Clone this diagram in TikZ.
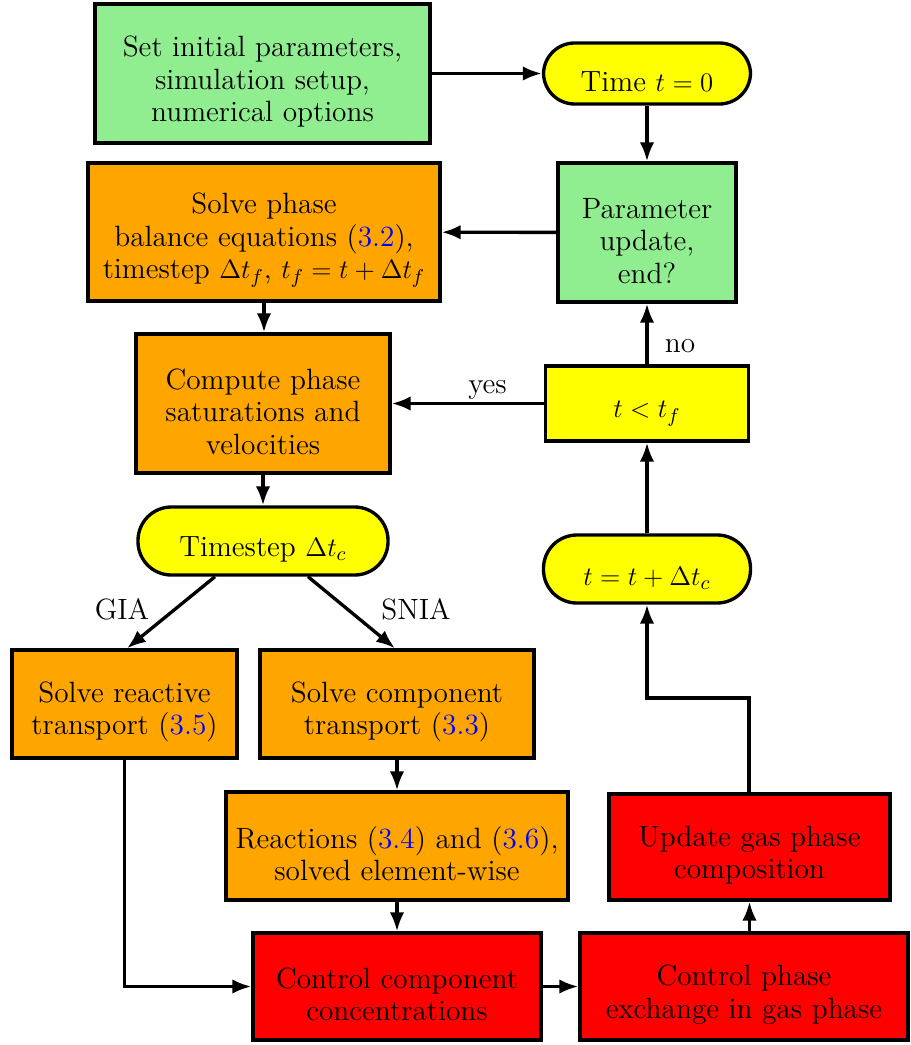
\documentclass[tikz,border=0pt]{standalone}
\usetikzlibrary{arrows.meta}
\definecolor{lgreen}{RGB}{144,238,144}
\definecolor{orng}{RGB}{255,165,0}
\definecolor{yel}{RGB}{255,255,0}
\definecolor{rd}{RGB}{255,0,0}
\newcommand{\rf}[1]{(\textcolor{blue}{#1})}
\newcommand{\st}{\rule{0pt}{16.6pt}}
\tikzset{
  box/.style={draw, line width=1.5pt, align=center, inner sep=2pt, font=\fontsize{13.2}{14.5}\selectfont},
  gbox/.style={box, fill=lgreen},
  obox/.style={box, fill=orng},
  ybox/.style={box, fill=yel},
  rbox/.style={box, fill=rd},
  pill/.style={box, fill=yel, rounded corners=14pt},
  arr/.style={line width=1.5pt, -{Latex[length=8.5pt,width=6.5pt]}},
  lbl/.style={font=\fontsize{13.2}{14.5}\selectfont},
}
\begin{document}
\begin{tikzpicture}[x=0.45pt,y=-0.45pt]
\useasboundingbox (0,0) rectangle (910,1045);
\node[gbox, minimum width=150.75pt, minimum height=62.55pt] (init) at (262.5,73.5) {\st Set initial parameters,\\simulation setup,\\numerical options};
\node[pill, minimum width=93.15pt, minimum height=27.45pt] (t0) at (647,73.5) {\st Time $t=0$};
\node[gbox, minimum width=80.1pt, minimum height=62.55pt] (param) at (647,232.5) {\st Parameter\\update,\\end?};
\node[obox, minimum width=158.4pt, minimum height=62.1pt] (solve) at (264,232) {\st Solve phase\\balance equations \rf{3.2},\\timestep $\Delta t_f$, $t_f = t+\Delta t_f$};
\node[obox, minimum width=114.3pt, minimum height=62.55pt] (comp) at (263,403.5) {\st Compute phase\\saturations and\\velocities};
\node[ybox, minimum width=91.35pt, minimum height=33.75pt] (tlt) at (647,403.5) {\st $t<t_f$};
\node[pill, minimum width=112.5pt, minimum height=30.6pt, rounded corners=15pt] (ts) at (263,541) {\st Timestep $\Delta t_c$};
\node[pill, minimum width=93.15pt, minimum height=30.6pt, rounded corners=15pt] (tup) at (647,569) {\st $t=t+\Delta t_c$};
\node[obox, minimum width=101.25pt, minimum height=48.6pt] (react) at (124.5,704) {\st Solve reactive\\transport \rf{3.5}};
\node[obox, minimum width=123.3pt, minimum height=48.6pt] (ctr) at (397,704) {\st Solve component\\transport \rf{3.3}};
\node[obox, minimum width=153.9pt, minimum height=48.6pt] (reac) at (397,846) {\st Reactions \rf{3.4} and \rf{3.6},\\solved element-wise};
\node[rbox, minimum width=126.45pt, minimum height=47.7pt] (gas) at (749.5,847) {\st Update gas phase\\composition};
\node[rbox, minimum width=129.6pt, minimum height=48.15pt] (cc) at (397,986.5) {\st Control component\\concentrations};
\node[rbox, minimum width=147.6pt, minimum height=48.15pt] (cp) at (744,986.5) {\st Control phase\\exchange in gas phase};
\coordinate (g1) at (749,698);
\coordinate (g2) at (647,698);

\draw[arr] (init) -- (t0);
\draw[arr] (t0) -- (param);
\draw[arr] (param) -- (solve);
\draw[arr] (solve.south -| 264,0) -- (comp.north -| 264,0);
\draw[arr] (tlt) -- node[lbl, above, pos=0.37, inner sep=1pt] {yes} (comp);
\draw[arr] (tlt) -- node[lbl, right, pos=0.3, xshift=4pt] {no} (param);
\draw[arr] (comp) -- (ts);
\draw[arr] (ts.south -| 215,0) -- node[lbl, left, pos=0.45, xshift=-7.7pt] {GIA} (react.north -| 127,0);
\draw[arr] (ts.south -| 308,0) -- node[lbl, right, pos=0.45, xshift=11.3pt] {SNIA} (ctr.north -| 395,0);
\draw[arr] (ctr) -- (reac);
\draw[arr] (reac) -- (cc);
\draw[arr] (react.south) |- (cc.west);
\draw[arr] (cc) -- (cp);
\draw[arr] (cp.north -| gas.south) -- (gas.south);
\draw[arr] (gas.north -| g1) -- (g1) -- (g2) -- (tup.south);
\draw[arr] (tup) -- (tlt);
\end{tikzpicture}
\end{document}
